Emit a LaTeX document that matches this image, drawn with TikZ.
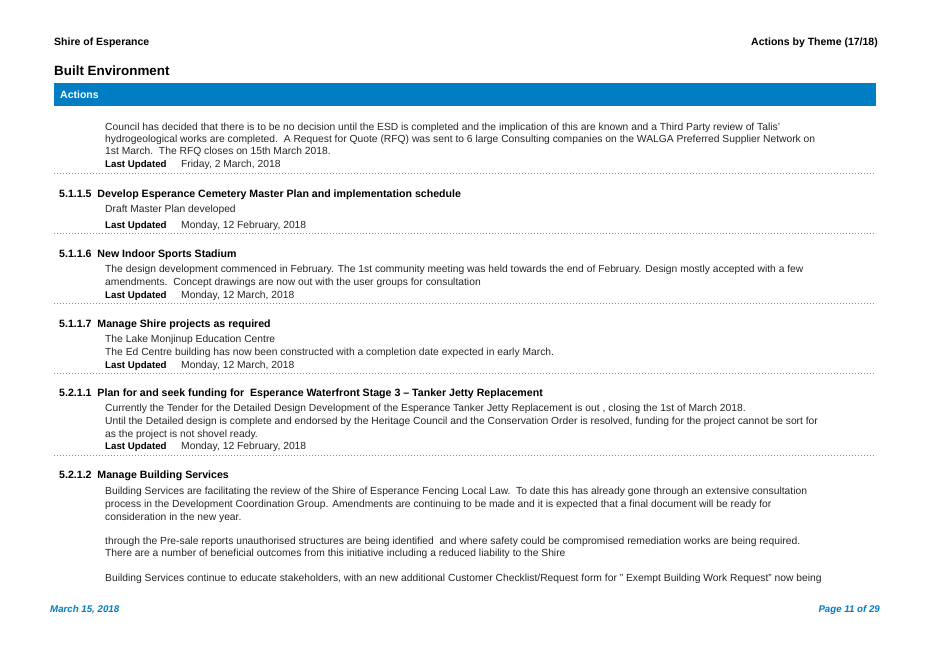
\documentclass[tikz,border=0pt]{standalone}
\usepackage{fontspec}
\setmainfont{Liberation Sans}
\definecolor{barblue}{RGB}{0,125,195}
\tikzset{
  body/.style={anchor=base west, inner sep=0pt, font=\fontsize{10.3}{12}\selectfont, text=black!85},
  head/.style={anchor=base west, inner sep=0pt, font=\fontsize{10.6}{12}\selectfont\bfseries},
  stamp/.style={anchor=base west, inner sep=0pt, font=\fontsize{9.7}{12}\selectfont\bfseries},
  sep/.style={draw=black!45, line width=0.5pt, dash pattern=on 0.7pt off 2.3pt},
  foot/.style={inner sep=0pt, font=\fontsize{9.7}{12}\selectfont\bfseries\itshape, text=barblue}
}
\begin{document}
\begin{tikzpicture}[x=1pt,y=-1pt]
  \useasboundingbox (0,0) rectangle (928,657);
  % page header
  \node [head, font=\fontsize{10.5}{12}\selectfont\bfseries] (shire) at (54,45.5) {Shire of Esperance};
  \node [anchor=base east, inner sep=0pt, font=\fontsize{10.5}{12}\selectfont\bfseries] (theme) at (878,45.5) {Actions by Theme (17/18)};
  \node [head, font=\fontsize{13.4}{15}\selectfont\bfseries] (title) at (54,75) {Built Environment};
  \fill [barblue] (54,83) rectangle (876,106);
  \node [head, text=white, font=\fontsize{10.5}{12}\selectfont\bfseries] (actions) at (60,98) {Actions};
  % first item (continued)
  \node [body] (a1) at (105,130.5) {Council has decided that there is to be no decision until the ESD is completed and the implication of this are known and a Third Party review of Talis'};
  \node [body] (a2) at (105,142.5) {hydrogeological works are completed.\ \ A Request for Quote (RFQ) was sent to 6 large Consulting companies on the WALGA Preferred Supplier Network on};
  \node [body] (a3) at (105,154.5) {1st March.\ \ The RFQ closes on 15th March 2018.};
  \node [stamp] (u1) at (105,167) {Last Updated};
  \node [body] (d1) at (181,167) {Friday, 2 March, 2018};
  \draw [sep] (54,173) -- (876,173);
  % 5.1.1.5
  \node [head] (h2) at (59,197) {5.1.1.5\ \ Develop Esperance Cemetery Master Plan and implementation schedule};
  \node [body] (b1) at (105,212) {Draft Master Plan developed};
  \node [stamp] (u2) at (105,228) {Last Updated};
  \node [body] (d2) at (181,228) {Monday, 12 February, 2018};
  \draw [sep] (54,233) -- (876,233);
  % 5.1.1.6
  \node [head] (h3) at (59,257) {5.1.1.6\ \ New Indoor Sports Stadium};
  \node [body] (c1) at (105,272) {The design development commenced in February. The 1st community meeting was held towards the end of February. Design mostly accepted with a few};
  \node [body] (c2) at (105,285) {amendments.\ \ Concept drawings are now out with the user groups for consultation};
  \node [stamp] (u3) at (105,298) {Last Updated};
  \node [body] (d3) at (181,298) {Monday, 12 March, 2018};
  \draw [sep] (54,303) -- (876,303);
  % 5.1.1.7
  \node [head] (h4) at (59,327) {5.1.1.7\ \ Manage Shire projects as required};
  \node [body] (e1) at (105,342) {The Lake Monjinup Education Centre};
  \node [body] (e2) at (105,355) {The Ed Centre building has now been constructed with a completion date expected in early March.};
  \node [stamp] (u4) at (105,368) {Last Updated};
  \node [body] (d4) at (181,368) {Monday, 12 March, 2018};
  \draw [sep] (54,373) -- (876,373);
  % 5.2.1.1
  \node [head] (h5) at (59,396) {5.2.1.1\ \ Plan for and seek funding for\ \ Esperance Waterfront Stage 3 -- Tanker Jetty Replacement};
  \node [body] (f1) at (105,411) {Currently the Tender for the Detailed Design Development of the Esperance Tanker Jetty Replacement is out , closing the 1st of March 2018.};
  \node [body] (f2) at (105,424) {Until the Detailed design is complete and endorsed by the Heritage Council and the Conservation Order is resolved, funding for the project cannot be sort for};
  \node [body] (f3) at (105,437) {as the project is not shovel ready.};
  \node [stamp] (u5) at (105,449) {Last Updated};
  \node [body] (d5) at (181,449) {Monday, 12 February, 2018};
  \draw [sep] (54,455) -- (876,455);
  % 5.2.1.2
  \node [head] (h6) at (59,478) {5.2.1.2\ \ Manage Building Services};
  \node [body] (g1) at (105,494) {Building Services are facilitating the review of the Shire of Esperance Fencing Local Law.\ \ To date this has already gone through an extensive consultation};
  \node [body] (g2) at (105,507) {process in the Development Coordination Group. Amendments are continuing to be made and it is expected that a final document will be ready for};
  \node [body] (g3) at (105,520) {consideration in the new year.};
  \node [body] (g4) at (105,544) {through the Pre-sale reports unauthorised structures are being identified\ \ and where safety could be compromised remediation works are being required.};
  \node [body] (g5) at (105,556) {There are a number of beneficial outcomes from this initiative including a reduced liability to the Shire};
  \node [body] (g6) at (105,581) {Building Services continue to educate stakeholders, with an new additional Customer Checklist/Request form for " Exempt Building Work Request" now being};
  % footer
  \node [foot, anchor=base west] (date) at (50,612.5) {March 15, 2018};
  \node [foot, anchor=base east] (page) at (880,612.5) {Page 11 of 29};
\end{tikzpicture}
\end{document}
